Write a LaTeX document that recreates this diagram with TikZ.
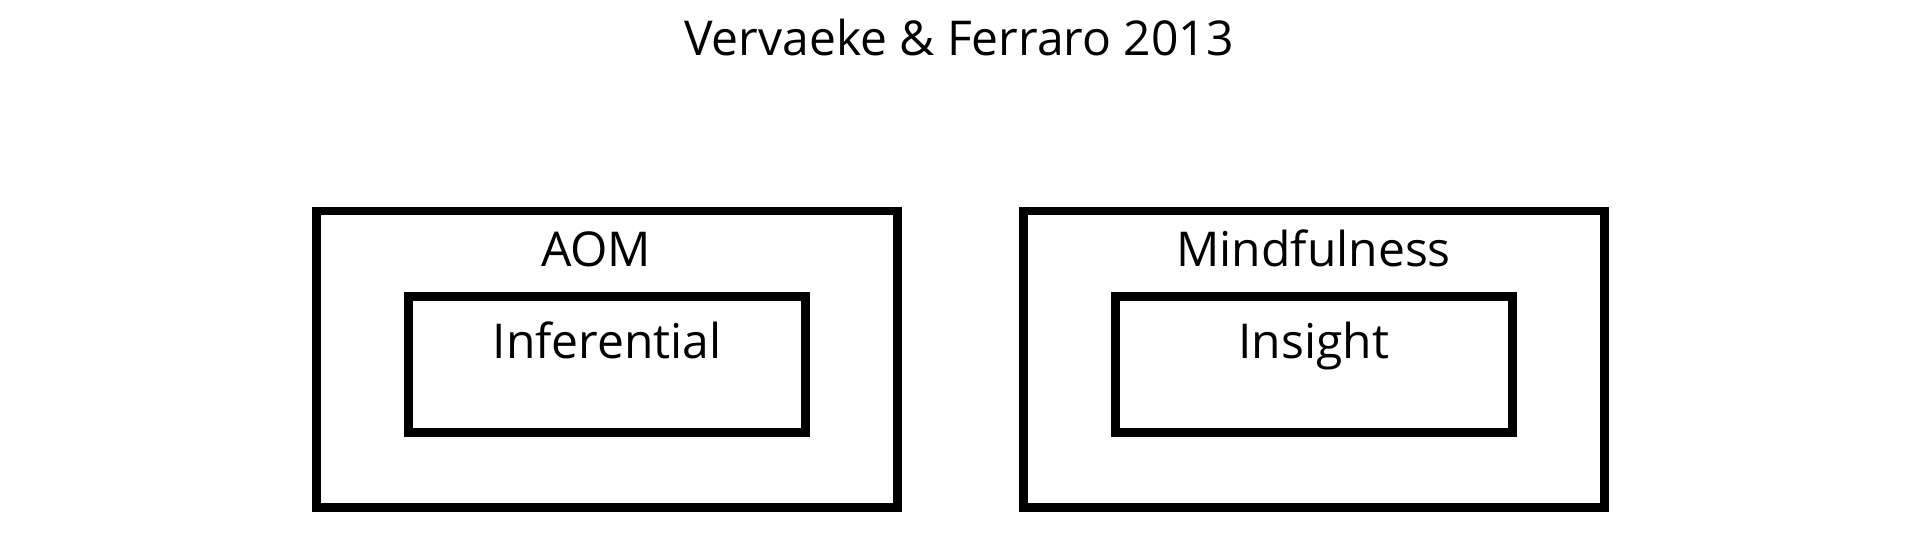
\documentclass[tikz,border=0pt]{standalone}
\usepackage{fontspec}
\setmainfont{Open Sans}
\usepackage{tikz}
\usetikzlibrary{positioning,calc}

\begin{document}
\begin{tikzpicture}[node distance=58.3pt,
    outerbox/.style={draw, line width=4.4pt, minimum width=290.5pt, minimum height=148.1pt, inner sep=0pt},
    innerbox/.style={draw, line width=4.4pt, minimum width=198.5pt, minimum height=68pt, inner sep=0pt},
    lbl/.style={font=\fontsize{24}{29}\selectfont, inner sep=0pt, anchor=base}]
    \useasboundingbox (0,0) rectangle (960pt,-272.5pt);

    \node[lbl] (title) at (479.5pt,-28pt) {Vervaeke \& Ferraro 2013};

    \node[outerbox] (AOM)  at (303.6pt,-179.6pt) {};
    \node[outerbox] (MIND) [right=of AOM]     {};

    \node[innerbox] (INF) [below=42.7pt of AOM.north]  {};
    \node[innerbox] (INS) [below=42.7pt of MIND.north] {};

    \node[lbl] (AOMlbl)  at ($(AOM.north)+(-5.5pt,-30pt)$) {AOM};
    \node[lbl] (MINDlbl) at ($(MIND.north)+(0,-30pt)$)     {Mindfulness};
    \node[lbl] (INFlbl)  at ($(INF.north)+(0,-33pt)$)      {Inferential};
    \node[lbl] (INSlbl)  at ($(INS.north)+(0,-33pt)$)      {Insight};
\end{tikzpicture}
\end{document}
